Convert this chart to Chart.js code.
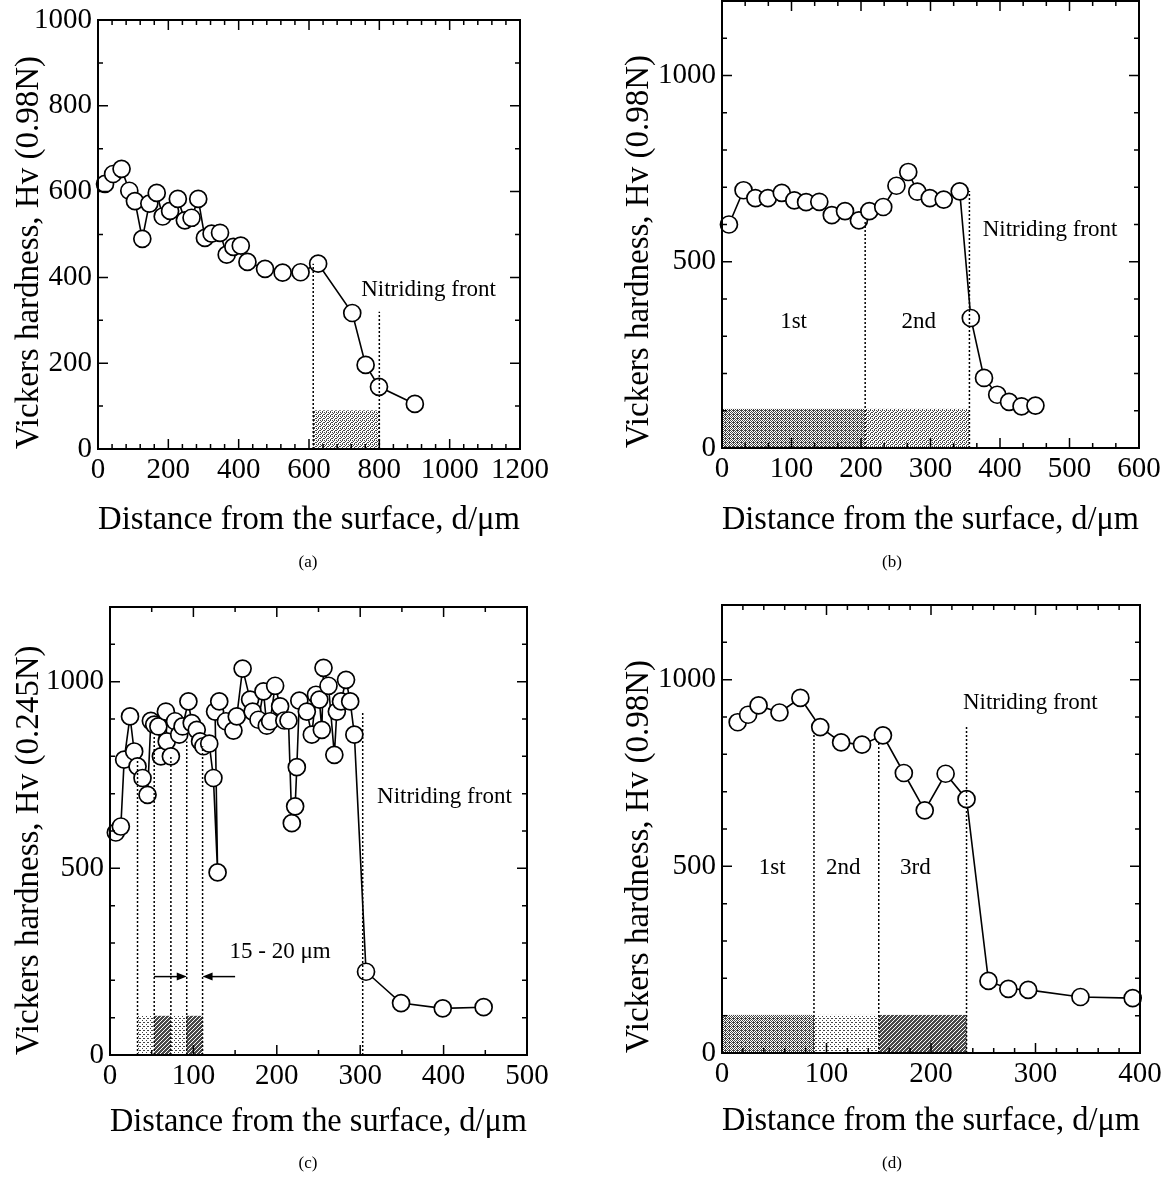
<!DOCTYPE html>
<html lang="en">
<head>
  <meta charset="UTF-8">
  <title>Vickers hardness profiles</title>
  <script src="https://cdn.jsdelivr.net/npm/chart.js"></script>
  <style>
    body { margin: 0; background: #fff; overflow: hidden; }
    #wrap { position: relative; width: 1168px; height: 1181px; overflow: hidden; }
    canvas { position: absolute; }
  </style>
</head>
<body>
  <div id="wrap">
    <canvas id="chartA" width="584" height="590" style="left:0;top:0"></canvas>
    <canvas id="chartB" width="584" height="620" style="left:584px;top:-30px"></canvas>
    <canvas id="chartC" width="584" height="591" style="left:0;top:590px"></canvas>
    <canvas id="chartD" width="584" height="591" style="left:584px;top:590px"></canvas>
  </div>

  <script>
    // (a)
    const aDist = [20, 43, 67, 89, 105, 126, 146, 167, 184, 205, 227, 247, 266, 285, 304, 323, 347, 366, 385, 406, 425, 475, 525, 576, 626, 723, 761, 799, 901];
    const aHv = [618, 641, 653, 602, 578, 490, 572, 597, 542, 555, 583, 533, 539, 583, 492, 502, 504, 453, 471, 474, 436, 420, 411, 412, 432, 317, 196, 145, 105];
    const aTicksX = [0, 200, 400, 600, 800, 1000, 1200];
    const aTicksY = [0, 200, 400, 600, 800, 1000];

    // (b)
    const bDist = [10, 31, 48, 66, 86, 104, 121, 140, 158, 177, 197, 212, 232, 251, 268, 281, 299, 319, 342, 358, 377, 396, 413, 431, 451];
    const bHv = [600, 692, 671, 671, 685, 665, 660, 661, 625, 636, 611, 636, 647, 704, 741, 688, 671, 667, 689, 349, 188, 143, 124, 112, 114];
    const bTicksX = [0, 100, 200, 300, 400, 500, 600];
    const bTicksY = [0, 500, 1000];

    // (c)
    const cDist = [7, 13, 17, 24, 29, 33, 39, 45, 49, 53, 58, 61, 67, 68, 73, 78, 83, 87, 94, 98, 104, 108, 112, 119, 124, 129, 126, 131, 139, 148, 152, 159, 168, 171, 178, 184, 188, 192, 198, 204, 209, 214, 218, 222, 224, 227, 236, 242, 247, 251, 254, 256, 262, 269, 272, 277, 283, 288, 293, 307, 349, 399, 448];
    const cHv = [596, 612, 791, 907, 813, 773, 742, 697, 895, 885, 880, 800, 920, 840, 800, 894, 858, 880, 947, 889, 871, 840, 827, 834, 742, 489, 920, 947, 894, 869, 907, 1035, 952, 920, 898, 974, 882, 894, 989, 934, 896, 896, 621, 666, 771, 949, 920, 858, 965, 952, 871, 1037, 989, 804, 920, 947, 1005, 947, 858, 223, 139, 125, 128];
    const cTicksX = [0, 100, 200, 300, 400, 500];
    const cTicksY = [0, 500, 1000];

    // (d)
    const dDist = [15, 25, 35, 55, 75, 94, 114, 134, 154, 174, 194, 214, 234, 255, 274, 293, 343, 393];
    const dHv = [886, 906, 931, 912, 951, 873, 832, 826, 851, 750, 650, 748, 680, 193, 172, 169, 150, 147];
    const dTicksX = [0, 100, 200, 300, 400];
    const dTicksY = [0, 500, 1000];

    // shaded layers [from, to, tone], dotted marker lines [x, top]
    const aLayers = [[612, 800, 'medium']];
    const aMarks = [[612, 432], [800, 320]];
    const bLayers = [[0, 206, 'dense'], [206, 356, 'medium']];
    const bMarks = [[206, 612], [356, 690]];
    const cLayers = [[33, 53, 'light'], [53, 73, 'dark'], [73, 92, 'light'], [92, 111, 'dark']];
    const cMarks = [[33, 790], [53, 858], [73, 800], [92, 840], [111, 827], [303, 920]];
    const dLayers = [[0, 88, 'dense'], [88, 150, 'light'], [150, 234, 'dark']];
    const dMarks = [[88, 858], [150, 831], [234, 874]];

    const FONT = "'Liberation Serif', 'Times New Roman', serif";
    Chart.defaults.animation = false;

    function makePattern(ctx, tone) {
      const c = document.createElement('canvas');
      c.width = 4; c.height = 4;
      const p = c.getContext('2d');
      p.fillStyle = '#fff';
      p.fillRect(0, 0, 4, 4);
      const dots = {
        light: [[0, 0], [2, 2], [3, 0]],
        medium: [[0, 0], [2, 0], [1, 1], [3, 2], [0, 2], [2, 3]],
        dense: [[0, 0], [2, 0], [1, 1], [3, 1], [0, 2], [2, 2], [1, 3], [3, 3], [1, 0]],
        dark: [[0, 0], [1, 0], [2, 0], [1, 1], [3, 1], [0, 2], [2, 2], [3, 2], [1, 3], [2, 3], [3, 3], [0, 1]]
      }[tone];
      p.fillStyle = tone === 'dark' ? '#4a4a4a' : '#444';
      dots.forEach(([x, y]) => p.fillRect(x, y, 1, 1));
      return ctx.createPattern(c, 'repeat');
    }

    const extras = {};

    const decoPlugin = {
      id: 'deco',
      beforeDatasetsDraw(chart) {
        const e = extras[chart.canvas.id];
        const { ctx, scales: { x, y } } = chart;
        ctx.save();
        e.layers.forEach(([x0, x1, tone]) => {
          const l = x.getPixelForValue(x0), r = x.getPixelForValue(x1);
          const t = y.getPixelForValue(e.layerTop), b = y.getPixelForValue(0);
          ctx.fillStyle = makePattern(ctx, tone);
          ctx.fillRect(l, t, r - l, b - t);
        });
        ctx.restore();
      },
      afterDatasetsDraw(chart) {
        const e = extras[chart.canvas.id];
        const { ctx, chartArea: a, scales: { x, y } } = chart;
        ctx.save();
        // dotted markers
        ctx.strokeStyle = '#000';
        ctx.lineWidth = 1.5;
        ctx.setLineDash([2, 2]);
        e.marks.forEach(([mx, top]) => {
          const px = x.getPixelForValue(mx);
          ctx.beginPath();
          ctx.moveTo(px, y.getPixelForValue(0));
          ctx.lineTo(px, y.getPixelForValue(top));
          ctx.stroke();
        });
        ctx.setLineDash([]);

        // frame
        ctx.lineWidth = 2;
        ctx.strokeRect(a.left, a.top, a.right - a.left, a.bottom - a.top);

        // inward ticks on all sides
        ctx.lineWidth = 1.5;
        const nx = Math.round(x.max / e.xMinor);
        for (let i = 0; i <= nx; i++) {
          const px = x.getPixelForValue(i * e.xMinor);
          const len = i % e.xPer === 0 ? 10 : 5;
          ctx.beginPath();
          ctx.moveTo(px, a.bottom); ctx.lineTo(px, a.bottom - len);
          ctx.moveTo(px, a.top); ctx.lineTo(px, a.top + len);
          ctx.stroke();
        }
        const ny = Math.round(y.max / e.yMinor);
        for (let i = 0; i <= ny; i++) {
          const py = y.getPixelForValue(i * e.yMinor);
          const len = i % e.yPer === 0 ? 10 : 5;
          ctx.beginPath();
          ctx.moveTo(a.left, py); ctx.lineTo(a.left + len, py);
          ctx.moveTo(a.right, py); ctx.lineTo(a.right - len, py);
          ctx.stroke();
        }

        // labels in data coordinates
        ctx.fillStyle = '#000';
        ctx.textAlign = 'center';
        ctx.textBaseline = 'middle';
        ctx.font = '23px ' + FONT;
        e.notes.forEach(([txt, tx, ty]) => {
          ctx.fillText(txt, x.getPixelForValue(tx), y.getPixelForValue(ty));
        });

        // arrows [from, to, height]
        (e.arrows || []).forEach(([x0, x1, h]) => {
          const p0 = x.getPixelForValue(x0), p1 = x.getPixelForValue(x1), py = y.getPixelForValue(h);
          const dir = Math.sign(p1 - p0);
          ctx.beginPath();
          ctx.moveTo(p0, py); ctx.lineTo(p1 - dir * 9, py);
          ctx.stroke();
          ctx.beginPath();
          ctx.moveTo(p1, py);
          ctx.lineTo(p1 - dir * 10, py - 4);
          ctx.lineTo(p1 - dir * 10, py + 4);
          ctx.closePath();
          ctx.fill();
        });

        // panel caption
        ctx.font = '17px ' + FONT;
        ctx.fillText(e.caption, 308, e.captionY);
        ctx.restore();
      }
    };

    function makeChart(id, o) {
      extras[id] = o.extra;
      const canvas = document.getElementById(id);
      const W = canvas.width, H = canvas.height;
      const tickFont = { family: FONT, size: 29 };
      return new Chart(canvas, {
        type: 'line',
        data: {
          datasets: [{
            data: o.dist.map((d, i) => ({ x: d, y: o.hv[i] })),
            borderColor: '#000',
            borderWidth: 1.6,
            pointRadius: 8.5,
            pointBackgroundColor: '#fff',
            pointBorderColor: '#000',
            pointBorderWidth: 1.7,
            tension: 0,
            clip: false
          }]
        },
        options: {
          responsive: false,
          layout: { padding: { left: 0, top: o.area.top, right: W - o.area.right, bottom: 0 } },
          plugins: { legend: { display: false }, tooltip: { enabled: false } },
          scales: {
            x: {
              type: 'linear',
              min: 0,
              max: o.xTicks[o.xTicks.length - 1],
              grid: { display: false, drawTicks: false },
              border: { display: false },
              afterBuildTicks: s => { s.ticks = o.xTicks.map(v => ({ value: v })); },
              afterFit: s => { s.height = H - o.area.bottom; s.paddingLeft = 0; s.paddingRight = 0; },
              ticks: { autoSkip: false, maxRotation: 0, padding: 4, color: '#000', font: tickFont, callback: v => String(v) },
              title: {
                display: true, text: 'Distance from the surface, d/\u03bcm', color: '#000',
                font: { family: FONT, size: 34 }, padding: { top: 0, bottom: o.xTitlePad }
              }
            },
            y: {
              type: 'linear',
              min: 0,
              max: o.yMax,
              grid: { display: false, drawTicks: false },
              border: { display: false },
              afterBuildTicks: s => { s.ticks = o.yTicks.map(v => ({ value: v })); },
              afterFit: s => { s.width = o.area.left; s.paddingTop = 0; s.paddingBottom = 0; },
              ticks: { autoSkip: false, padding: 6, color: '#000', font: tickFont, callback: v => String(v) },
              title: {
                display: true, text: o.yTitle, color: '#000', align: 'start',
                font: { family: FONT, size: 33 }, padding: { top: o.yTitlePad, bottom: 0 }
              }
            }
          }
        },
        plugins: [decoPlugin]
      });
    }

    makeChart('chartA', {
      dist: aDist, hv: aHv, xTicks: aTicksX, yTicks: aTicksY, yMax: 1000,
      area: { left: 98, top: 20, right: 520, bottom: 449 },
      yTitle: 'Vickers hardness, Hv (0.98N)', xTitlePad: 50, yTitlePad: 10,
      extra: {
        layers: aLayers, marks: aMarks, layerTop: 90, xMinor: 40, xPer: 5, yMinor: 100, yPer: 2,
        notes: [['Nitriding front', 940, 370]], caption: '(a)', captionY: 563
      }
    });

    makeChart('chartB', {
      dist: bDist, hv: bHv, xTicks: bTicksX, yTicks: bTicksY, yMax: 1200,
      area: { left: 138, top: 31, right: 555, bottom: 478 },
      yTitle: 'Vickers hardness, Hv (0.98N)', xTitlePad: 50, yTitlePad: 36,
      extra: {
        layers: bLayers, marks: bMarks, layerTop: 105, xMinor: 100 / 3, xPer: 3, yMinor: 100, yPer: 5,
        notes: [['1st', 103, 339], ['2nd', 283, 339], ['Nitriding front', 472, 586]], caption: '(b)', captionY: 593
      }
    });

    makeChart('chartC', {
      dist: cDist, hv: cHv, xTicks: cTicksX, yTicks: cTicksY, yMax: 1200,
      area: { left: 110, top: 17, right: 527, bottom: 465 },
      yTitle: 'Vickers hardness, Hv (0.245N)', xTitlePad: 39, yTitlePad: 10,
      extra: {
        layers: cLayers, marks: cMarks, layerTop: 105, xMinor: 50, xPer: 2, yMinor: 100, yPer: 5,
        notes: [['Nitriding front', 401, 692], ['15 - 20 \u03bcm', 204, 277]],
        arrows: [[53, 92, 210], [150, 111, 210]], caption: '(c)', captionY: 574
      }
    });

    makeChart('chartD', {
      dist: dDist, hv: dHv, xTicks: dTicksX, yTicks: dTicksY, yMax: 1200,
      area: { left: 138, top: 15, right: 556, bottom: 463 },
      yTitle: 'Vickers hardness, Hv (0.98N)', xTitlePad: 40, yTitlePad: 36,
      extra: {
        layers: dLayers, marks: dMarks, layerTop: 102, xMinor: 20, xPer: 5, yMinor: 100, yPer: 5,
        notes: [['1st', 48, 496], ['2nd', 116, 496], ['3rd', 185, 496], ['Nitriding front', 295, 938]],
        caption: '(d)', captionY: 574
      }
    });
  </script>
</body>
</html>
